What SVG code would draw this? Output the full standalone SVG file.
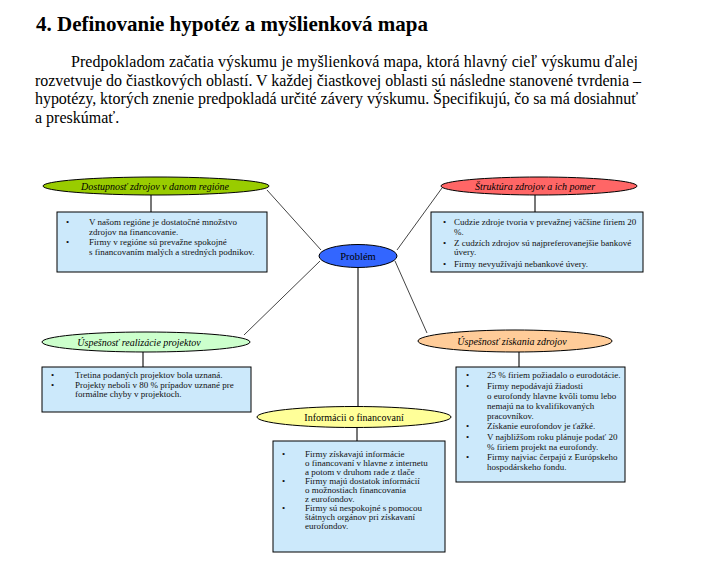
<svg xmlns="http://www.w3.org/2000/svg" width="710" height="575" viewBox="0 0 710 575" font-family="Liberation Serif, Times New Roman, serif">
<style>
text{font-family:"Liberation Serif","Times New Roman",serif;fill:#000}
.title{font-size:21px;font-weight:bold}
.para{font-size:16px}
.lbl{font-size:10px;text-anchor:middle}
.it{font-style:italic}
.box{fill:#cce9fb;stroke:#000;stroke-width:1}
.ell{stroke:#000;stroke-width:1}
.bt{font-size:9px;fill:#111}
.diag{stroke:#444;stroke-width:1;fill:none}
.vert{stroke:#777;stroke-width:2;fill:none}
</style>
<rect width="710" height="575" fill="#fff"/>
<text class="title" x="36" y="31">4. Definovanie hypotéz a myšlienková mapa</text>
<text class="para" x="71" y="67" textLength="567" lengthAdjust="spacing">Predpokladom začatia výskumu je myšlienková mapa, ktorá hlavný cieľ výskumu ďalej</text>
<text class="para" x="35" y="85.5" textLength="606" lengthAdjust="spacing">rozvetvuje do čiastkových oblastí. V každej čiastkovej oblasti sú následne stanovené tvrdenia –</text>
<text class="para" x="35" y="104" textLength="603" lengthAdjust="spacing">hypotézy, ktorých znenie predpokladá určité závery výskumu. Špecifikujú, čo sa má dosiahnuť</text>
<text class="para" x="35" y="122.5">a preskúmať.</text>

<g id="connectors">
<line class="diag" x1="267" y1="190" x2="321" y2="250"/>
<line class="diag" x1="442" y1="188" x2="397" y2="250"/>
<line class="diag" x1="320" y1="261" x2="244" y2="335"/>
<line class="diag" x1="395" y1="261" x2="427" y2="333"/>
<line class="vert" x1="358" y1="268" x2="358" y2="406"/>
<line class="vert" x1="151" y1="195" x2="151" y2="212"/>
<line class="vert" x1="535" y1="195" x2="535" y2="212"/>
<line class="vert" x1="143" y1="352" x2="143" y2="367"/>
<line class="vert" x1="519" y1="352" x2="519" y2="367"/>
<line class="vert" x1="357" y1="427" x2="357" y2="441"/>
</g>

<g id="problem">
<ellipse class="ell" cx="358" cy="256" rx="39" ry="11.5" fill="#3366ff"/>
<text class="lbl" x="358" y="259.5" style="font-size:10.5px">Problém</text>
</g>

<g id="dostupnost">
<ellipse class="ell" cx="156" cy="186" rx="113" ry="9" fill="#99cc00"/>
<text class="lbl it" x="155" y="189.5">Dostupnosť zdrojov v danom regióne</text>
<rect class="box" x="57" y="212" width="210" height="60"/>
<text class="bt" x="66" y="225">•</text>
<text class="bt" x="89" y="225">V našom regióne je dostatočné množstvo</text>
<text class="bt" x="89" y="234.5">zdrojov na financovanie.</text>
<text class="bt" x="66" y="245">•</text>
<text class="bt" x="89" y="245">Firmy v regióne sú prevažne spokojné</text>
<text class="bt" x="89" y="254.5">s financovaním malých a stredných podnikov.</text>
</g>

<g id="struktura">
<ellipse class="ell" cx="539" cy="186" rx="98" ry="9" fill="#ff6666"/>
<text class="lbl it" x="535" y="189.5">Štruktúra zdrojov a ich pomer</text>
<rect class="box" x="431" y="212" width="212" height="60"/>
<text class="bt" x="443" y="225">•</text>
<text class="bt" x="454" y="225">Cudzie  zdroje tvoria v prevažnej väčšine firiem 20</text>
<text class="bt" x="454" y="234.5">%.</text>
<text class="bt" x="443" y="245.5">•</text>
<text class="bt" x="454" y="245.5">Z cudzích zdrojov sú najpreferovanejšie bankové</text>
<text class="bt" x="454" y="255">úvery.</text>
<text class="bt" x="443" y="266.5">•</text>
<text class="bt" x="454" y="266.5">Firmy nevyužívajú nebankové úvery.</text>
</g>

<g id="realizacia">
<ellipse class="ell" cx="146" cy="342" rx="104" ry="10" fill="#ccffcc"/>
<text class="lbl it" x="139" y="345.5">Úspešnosť realizácie projektov</text>
<rect class="box" x="42" y="367" width="209" height="45"/>
<text class="bt" x="51" y="378">•</text>
<text class="bt" x="75" y="378">Tretina podaných projektov bola uznaná.</text>
<text class="bt" x="51" y="387.5">•</text>
<text class="bt" x="75" y="387.5">Projekty neboli v 80 % prípadov uznané pre</text>
<text class="bt" x="75" y="397">formálne chyby v projektoch.</text>
</g>

<g id="ziskanie">
<ellipse class="ell" cx="515" cy="341" rx="97" ry="11" fill="#ffcc99"/>
<text class="lbl it" x="512" y="344.5">Úspešnosť získania zdrojov</text>
<rect class="box" x="456" y="367" width="169" height="115"/>
<text class="bt" x="466" y="378">•</text>
<text class="bt" x="487" y="378">25 % firiem požiadalo o eurodotácie.</text>
<text class="bt" x="466" y="388.5">•</text>
<text class="bt" x="487" y="388.5">Firmy nepodávajú žiadosti</text>
<text class="bt" x="487" y="398.5">o eurofondy hlavne kvôli tomu lebo</text>
<text class="bt" x="487" y="408.5">nemajú na to  kvalifikovaných</text>
<text class="bt" x="487" y="418.5">pracovníkov.</text>
<text class="bt" x="466" y="429">•</text>
<text class="bt" x="487" y="429">Získanie eurofondov je ťažké.</text>
<text class="bt" x="466" y="439.5">•</text>
<text class="bt" x="487" y="439.5">V najbližšom roku plánuje podať 20</text>
<text class="bt" x="487" y="449.5">% firiem projekt na eurofondy.</text>
<text class="bt" x="466" y="460">•</text>
<text class="bt" x="487" y="460">Firmy najviac čerpajú z Európskeho</text>
<text class="bt" x="487" y="470">hospodárskeho fondu.</text>
</g>

<g id="informacie">
<ellipse class="ell" cx="354" cy="417" rx="97" ry="10.5" fill="#ffff99"/>
<text class="lbl" x="354" y="420.5">Informácii  o financovaní</text>
<rect class="box" x="273" y="441" width="172" height="111"/>
<text class="bt" x="282" y="457">•</text>
<text class="bt" x="305" y="457">Firmy získavajú informácie</text>
<text class="bt" x="305" y="466">o financovaní v hlavne z internetu</text>
<text class="bt" x="305" y="475">a potom v druhom rade z tlače</text>
<text class="bt" x="282" y="484">•</text>
<text class="bt" x="305" y="484">Firmy majú dostatok informácií</text>
<text class="bt" x="305" y="493">o možnostiach financovania</text>
<text class="bt" x="305" y="502">z eurofondov.</text>
<text class="bt" x="282" y="511">•</text>
<text class="bt" x="305" y="511">Firmy sú nespokojné s pomocou</text>
<text class="bt" x="305" y="520">štátnych orgánov pri získavaní</text>
<text class="bt" x="305" y="529">eurofondov.</text>
</g>
</svg>
